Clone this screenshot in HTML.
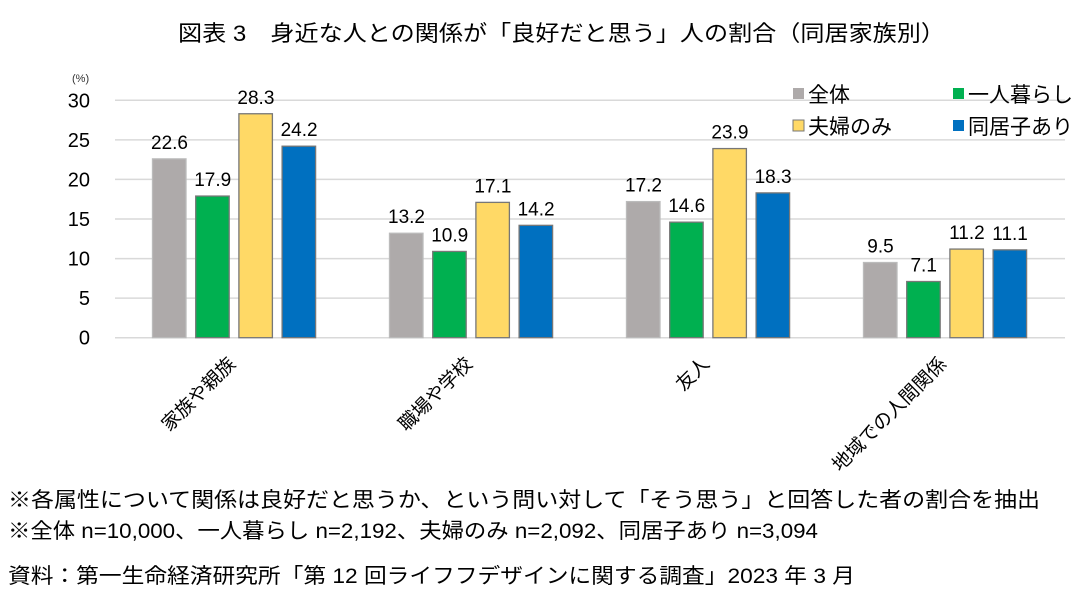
<!DOCTYPE html>
<html><head><meta charset="utf-8"><style>
body{margin:0;background:#fff;}
svg{display:block;font-family:"Liberation Sans","Noto Sans CJK JP",sans-serif;}
</style></head><body>
<svg width="1086" height="591" viewBox="0 0 1086 591">
<text x="178" y="41" font-size="22" textLength="767" lengthAdjust="spacingAndGlyphs">図表 3　身近な人との関係が「良好だと思う」人の割合（同居家族別）</text>
<text x="72" y="82" font-size="11" fill="#333">(%)</text>
<g id="grid"></g><g id="bars"></g><g id="labels"></g>
<g font-size="21">
<rect x="793" y="88" width="11" height="11" fill="#aeaaaa"/><text x="808" y="102">全体</text>
<rect x="953" y="88" width="11" height="11" fill="#00b050"/><text x="968" y="102">一人暮らし</text>
<rect x="793" y="120" width="11" height="11" fill="#ffd966" stroke="#777"/><text x="808" y="134">夫婦のみ</text>
<rect x="953" y="120" width="11" height="11" fill="#0070c0"/><text x="968" y="134">同居子あり</text>
</g>
<g font-size="21">
<text x="8" y="507" textLength="1032" lengthAdjust="spacingAndGlyphs">※各属性について関係は良好だと思うか、という問い対して「そう思う」と回答した者の割合を抽出</text>
<text x="8" y="538" textLength="810" lengthAdjust="spacingAndGlyphs">※全体 n=10,000、一人暮らし n=2,192、夫婦のみ n=2,092、同居子あり n=3,094</text>
<text x="8" y="583" textLength="847" lengthAdjust="spacingAndGlyphs">資料：第一生命経済研究所「第 12 回ライフフデザインに関する調査」2023 年 3 月</text>
</g>
</svg>
<script>
const categories=["家族や親族","職場や学校","友人","地域での人間関係"];
const seriesAll=[22.6,13.2,17.2,9.5];
const seriesSingle=[17.9,10.9,14.6,7.1];
const seriesCouple=[28.3,17.1,23.9,11.2];
const seriesChildren=[24.2,14.2,18.3,11.1];
const yTicks=[0,5,10,15,20,25,30];
const NS="http://www.w3.org/2000/svg";
const y0=337.7,yTop=100.3,yMax=30;
const y=v=>y0-(y0-yTop)*v/yMax;
const groupX=i=>152.5+i*237;
const series=[{d:seriesAll,fill:"#aeaaaa",stroke:"#bbb",n:"all"},{d:seriesSingle,fill:"#00b050",stroke:"#777",n:"single"},{d:seriesCouple,fill:"#ffd966",stroke:"#777",n:"couple"},{d:seriesChildren,fill:"#0070c0",stroke:"#777",n:"children"}];
function mk(tag,attrs,parent,txt){const e=document.createElementNS(NS,tag);for(const k in attrs)e.setAttribute(k,attrs[k]);if(txt!==undefined)e.textContent=txt;parent.appendChild(e);return e;}
const grid=document.getElementById("grid"),bars=document.getElementById("bars"),labels=document.getElementById("labels");
yTicks.forEach(t=>{
 const l=mk("line",{x1:115,x2:1065,y1:y(t),y2:y(t),stroke:"#d9d9d9","stroke-width":1.5},grid);
 
 
 const tx=mk("text",{x:90,y:y(t)+7,"text-anchor":"end","font-size":20},grid,String(t));
 
 
});
categories.forEach((c,i)=>{
 series.forEach((s,j)=>{
  const x=groupX(i)+j*43.2,v=s.d[i];
  const r=mk("rect",{x:x,y:y(v),width:33.5,height:y0-y(v),fill:s.fill,stroke:s.stroke,"stroke-width":1.3},bars);
  
  
  const t=mk("text",{x:x+17,y:y(v)-10,"text-anchor":"middle","font-size":19},labels,v.toFixed(1));
  
  
 });
 const cx=groupX(i)+84;
 const ct=mk("text",{x:cx,y:365,"text-anchor":"end","font-size":19,transform:"rotate(-45 "+cx+" 365)"},labels,c);
 
 
});
</script>
</body></html>
